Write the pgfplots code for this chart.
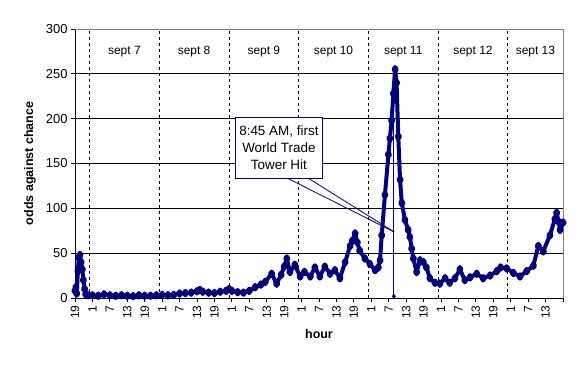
\documentclass[border=0pt]{standalone}
\usepackage{fontspec}
\setmainfont{Liberation Sans}
\usepackage{pgfplots}
\pgfplotsset{compat=1.18}
\definecolor{navy}{HTML}{000080}
\begin{document}
\begin{tikzpicture}
\useasboundingbox (-75bp,-68bp) rectangle (505bp,298bp);
\begin{axis}[
  scale only axis,
  width=488bp, height=269bp,
  at={(0,0)}, anchor=south west,
  xmin=0, xmax=168, ymin=0, ymax=300,
  axis x line=bottom, axis y line=left,
  axis line style={-, black, line width=0.8bp},
  tick align=outside,
  major tick length=4bp,
  tick style={black, line width=0.8bp},
  ytick={0,50,...,300},
  xtick={0,6,...,168},
  xticklabels={19,1,7,13,19,1,7,13,19,1,7,13,19,1,7,13,19,1,7,13,19,1,7,13,19,1,7,13,{}},
  ymajorgrids,
  major grid style={black, line width=0.8bp},
  extra x ticks={5,29,53,77,101,125,149},
  extra x tick labels={},
  extra x tick style={grid=major, major tick length=0pt, major grid style={black, dash pattern=on 3bp off 3bp, line width=0.8bp}},
  /pgf/number format/assume math mode=true,
  yticklabel style={font=\fontsize{13}{15}\selectfont},
  xticklabel style={rotate=90, anchor=east, font=\fontsize{12}{14}\selectfont},
  xlabel={\textbf{hour}},
  ylabel={\textbf{odds against chance}},
  label style={font=\fontsize{12.5}{14}\selectfont},
  xlabel style={at={(axis description cs:0.5,-0.1338)}, anchor=center},
  ylabel style={at={(axis description cs:-0.0922,0.5)}, anchor=center},
  clip=false,
]
\addplot[navy, line width=4bp, line join=round, mark=diamond*, mark size=2.2bp, mark options={solid}] coordinates {
(0,8) (0.3,12) (0.6,5) (1.0,30) (1.3,45) (1.7,48) (2.1,40) (2.5,32) (2.9,20) (3.3,10) (3.7,4)
(4.5,3) (6,3) (8,2.5) (10,4) (12,3) (14,2.5) (16,3) (18,2.5) (20,2) (22,3) (24,2.5) (26,2.5) (28,3)
(30,3.5) (32,3) (34,3.5) (36,5) (38,5.5) (40,6) (42,7.5) (43,9) (44,7) (46,6) (48,5.5) (50,7) (52,8)
(53,10) (54,8) (56,6.5) (58,6) (60,8) (62,12) (64,15) (65.5,18) (67.7,27) (69.4,16) (71,26) (72,35)
(72.9,44) (74,29) (75.7,37) (77.5,24) (79,29) (81,24) (82.6,34) (84.3,24) (86,35) (87.8,27) (89.5,31)
(91.2,22) (93,40) (94.7,58) (95.5,64) (96.4,72) (97.2,62) (98,53) (99.8,44) (101.5,38) (103.3,31)
(104.4,34) (105,42) (105.6,70) (106.7,115) (107.9,160) (108.4,178) (109,198) (109.6,228) (110.2,255)
(110.7,240) (111.3,180) (111.9,132) (112.5,106) (113.6,87) (114.7,76) (115.3,68) (115.9,55) (116.5,44)
(117.6,29) (118.8,42) (119.9,40) (121,34) (122.2,22) (123.9,17) (125.6,16) (127.4,22) (129,17)
(130.8,22) (132.5,32) (134.2,20) (136,23) (138.3,27) (140.5,22) (142.9,25) (145.2,30) (146.5,34)
(148.6,33) (150.9,28) (153.2,24) (155.5,30) (157.8,36) (159.5,58) (161.2,52) (163.5,70) (165.2,88)
(165.8,95) (166.5,85) (167,76) (168,84)
};
\addplot[navy, line width=0.8bp, mark=diamond*, mark size=2bp, mark indices={1}] coordinates {(109.75,2) (109.75,235)};
% borders
\draw[gray, line width=0.8bp] (axis cs:0,300) -- (axis cs:168,300) -- (axis cs:168,0);
% day labels
\node[font=\fontsize{12}{14}\selectfont] at (axis cs:17,275) {sept 7};
\node[font=\fontsize{12}{14}\selectfont] at (axis cs:41,275) {sept 8};
\node[font=\fontsize{12}{14}\selectfont] at (axis cs:65,275) {sept 9};
\node[font=\fontsize{12}{14}\selectfont] at (axis cs:89,275) {sept 10};
\node[font=\fontsize{12}{14}\selectfont] at (axis cs:113,275) {sept 11};
\node[font=\fontsize{12}{14}\selectfont] at (axis cs:137,275) {sept 12};
\node[font=\fontsize{12}{14}\selectfont] at (axis cs:158.5,275) {sept 13};
% callout
\draw[navy, line width=0.8bp] (axis cs:73.0,133.8) -- (axis cs:109.9,73.6);
\draw[navy, line width=0.8bp] (axis cs:80.2,133.8) -- (axis cs:109.9,73.6);
\node[draw=navy, line width=0.8bp, fill=white, minimum width=87.7bp, minimum height=61bp, inner sep=1bp, align=center, font=\fontsize{13.5}{17}\selectfont] at (axis cs:70.2,167.5) {8:45 AM, first\\World Trade\\Tower Hit};
\end{axis}
\end{tikzpicture}
\end{document}
